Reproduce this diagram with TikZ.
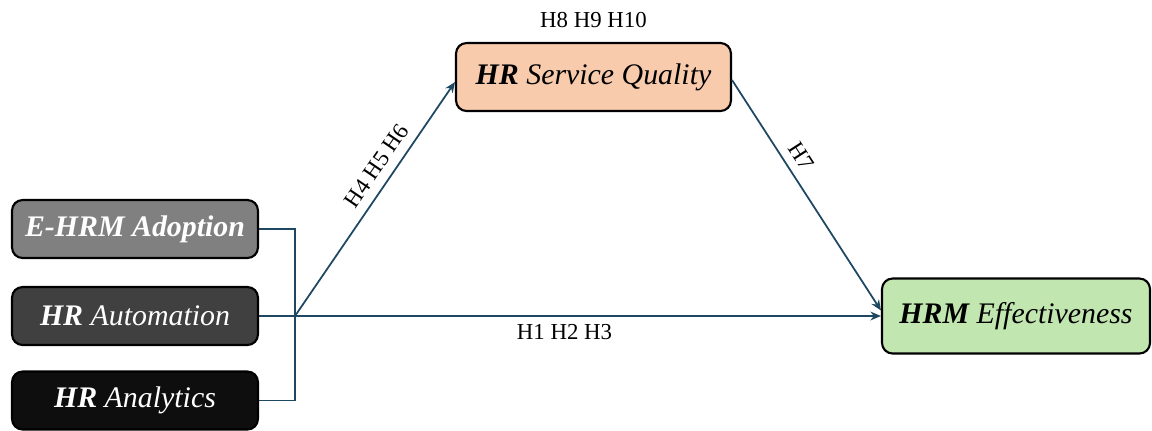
\documentclass[tikz,border=0pt]{standalone}
\usepackage{fontspec}
\setmainfont{Liberation Serif}
\usetikzlibrary{positioning,arrows.meta}
\definecolor{linkblue}{RGB}{30,72,98}
\definecolor{adoptgray}{RGB}{128,128,128}
\definecolor{autogray}{RGB}{64,64,64}
\definecolor{analyblack}{RGB}{14,14,14}
\definecolor{sqpeach}{RGB}{248,203,173}
\definecolor{effgreen}{RGB}{193,230,176}
\begin{document}
\begin{tikzpicture}[x=0.02cm,y=-0.02cm,
 var/.style={draw=black,line width=1.2pt,rounded corners=6pt,inner sep=2pt,
  minimum width=4.92cm,minimum height=1.16cm,font=\fontsize{17}{20}\selectfont\itshape},
 link/.style={draw=linkblue,line width=1pt},
 arr/.style={link,-{Stealth[length=6pt,width=5pt]}},
 hyp/.style={font=\fontsize{13}{15}\selectfont,inner sep=2pt}]
\useasboundingbox (0,0) rectangle (1152,430);
% independent variables
 \node[var,fill=adoptgray,text=white] (adopt) at (135,229) {\textbf{E-HRM Adoption}};
 \node[var,fill=autogray,text=white] (autom) at (135,316) {\textbf{HR} Automation};
 \node[var,fill=analyblack,text=white] (analy) at (135,400.5) {\textbf{HR} Analytics};
% mediator and outcome
 \node[var,fill=sqpeach,minimum width=5.5cm,minimum height=1.36cm] (sq) at (593.5,77) {\textbf{HR} Service Quality};
 \node[var,fill=effgreen,minimum width=5.36cm,minimum height=1.5cm] (eff) at (1016,316) {\textbf{HRM} Effectiveness};
 \node[hyp,above=0.2cm of sq] (hsq) {H8 H9 H10};
 \coordinate (hub) at (295,316);

 \draw[link] (adopt.east) -| (hub) |- (analy.east);
 \draw[link] (autom.east) -- (hub);
 \draw[arr] (hub) -- node[hyp,pos=0.6,above=3pt,sloped]{H4 H5 H6} ([yshift=-0.1cm]sq.west);
 \draw[arr] ([yshift=-0.06cm]sq.east) -- node[hyp,pos=0.37,above=3pt,sloped]{H7} ([yshift=0.11cm]eff.west);
 \draw[arr] (hub) -- node[hyp,pos=0.46,below=2pt]{H1 H2 H3} (eff.west);
\end{tikzpicture}
\end{document}
